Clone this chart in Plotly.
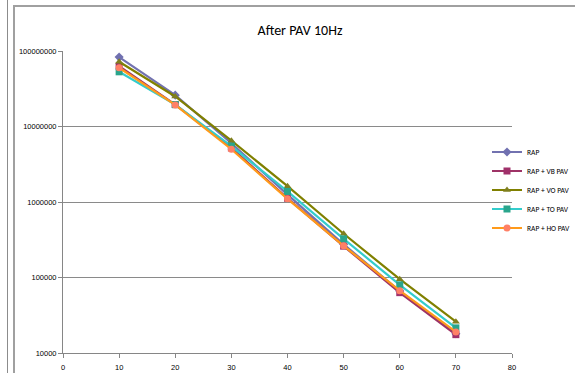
import plotly.graph_objects as go

freq_x = [10, 20, 30, 40, 50, 60, 70]
series_names = ["RAP", "RAP + VB PAV", "RAP + VO PAV", "RAP + TO PAV", "RAP + HO PAV"]
rap = [8.3e7, 2.6e7, 6.0e6, 1.25e6, 2.75e5, 6.6e4, 1.8e4]
rap_vb = [6.3e7, 1.95e7, 5.2e6, 1.12e6, 2.6e5, 6.3e4, 1.75e4]
rap_vo = [7.2e7, 2.5e7, 6.5e6, 1.62e6, 3.8e5, 9.5e4, 2.6e4]
rap_to = [5.3e7, 1.95e7, 5.5e6, 1.38e6, 3.25e5, 8.0e4, 2.15e4]
rap_ho = [6.0e7, 1.93e7, 5.0e6, 1.1e6, 2.63e5, 6.7e4, 1.9e4]
y_ticks = [10000, 100000, 1000000, 10000000, 100000000]
x_ticks = [0, 10, 20, 30, 40, 50, 60, 70, 80]

line_colors = ["#7272B0", "#9E3366", "#808000", "#33CCCC", "#FF9A1A"]
marker_colors = ["#7070B0", "#A0306A", "#7F7F1F", "#2AA58C", "#FF8066"]
symbols = ["diamond", "square", "triangle-up", "square", "circle"]
values = [rap, rap_vb, rap_vo, rap_to, rap_ho]

W, H = 575, 373
L, R, T, B = 63, 63, 51, 20
pw, ph = W - L - R, H - T - B

fig = go.Figure()
for name, ys, lc, mc, sym in zip(series_names, values, line_colors, marker_colors, symbols):
    fig.add_trace(go.Scatter(
        x=freq_x, y=ys, name=name, mode="lines+markers",
        line=dict(color=lc, width=2.2),
        marker=dict(symbol=sym, size=7, color=mc, line=dict(width=0)),
    ))

def px_x(p):
    return (p - L) / pw

def px_y(p):
    return (H - B - p) / ph

shapes = [
    dict(type="rect", xref="paper", yref="paper",
         x0=px_x(14), x1=px_x(600), y0=px_y(390), y1=px_y(6),
         line=dict(color="#A0A0A0", width=2), fillcolor="rgba(0,0,0,0)", layer="below"),
    dict(type="line", xref="paper", yref="paper",
         x0=px_x(7.5), x1=px_x(7.5), y0=px_y(390), y1=px_y(-10),
         line=dict(color="#8C8C8C", width=1)),
]

fig.update_layout(
    width=W, height=H,
    margin=dict(l=L, r=R, t=T, b=B, pad=0, autoexpand=False),
    paper_bgcolor="white", plot_bgcolor="white",
    font=dict(family="Liberation Sans, Arial, sans-serif", color="#000000"),
    title=dict(text="After PAV 10Hz", x=px_x(300), xref="paper", xanchor="center",
               y=1 - 30 / H, yanchor="middle",
               font=dict(size=14, family="Carlito, Lato, Liberation Sans, sans-serif", color="#000000")),
    xaxis=dict(range=[0, 80], tickvals=x_ticks, ticks="outside", ticklen=4,
               tickcolor="#868686", showline=True, linecolor="#868686", linewidth=1,
               showgrid=False, zeroline=False, tickfont=dict(size=7.5), ticklabelstandoff=3),
    yaxis=dict(type="log", range=[4, 8], tickvals=y_ticks,
               ticktext=[str(v) for v in y_ticks], ticks="outside", ticklen=4,
               tickcolor="#868686", showline=True, linecolor="#868686", linewidth=1,
               showgrid=True, gridcolor="#8A8A8A", gridwidth=1, zeroline=False,
               tickfont=dict(size=7.5)),
    legend=dict(x=px_x(487), xanchor="left", y=px_y(190), yanchor="middle",
                font=dict(size=7.5, family="Carlito, Lato, Liberation Sans, sans-serif"),
                bgcolor="rgba(0,0,0,0)", itemwidth=30, tracegroupgap=0),
    shapes=shapes,
    showlegend=True,
)

fig.write_html("out.html")
